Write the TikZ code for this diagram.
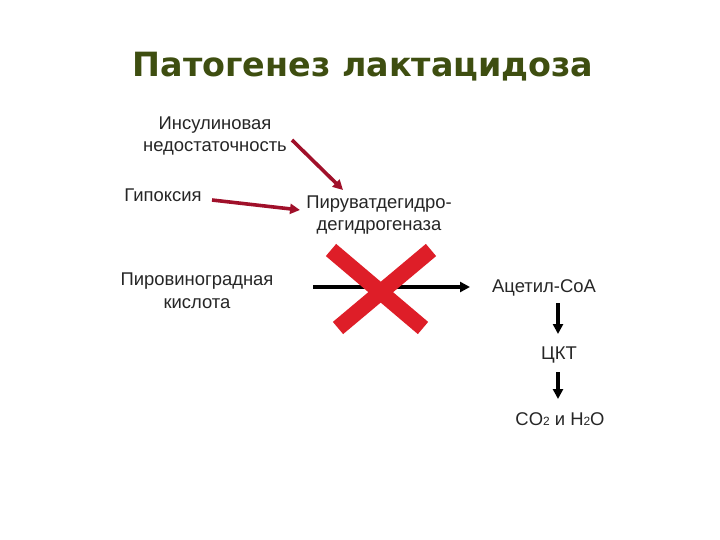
\documentclass[tikz,border=0pt]{standalone}
\usepackage{fontspec}
\setmainfont{Liberation Sans}
\newfontfamily\titlefont{DejaVu Sans}
\usetikzlibrary{arrows.meta}
\definecolor{titlegreen}{RGB}{62,78,16}
\definecolor{darkred}{RGB}{160,16,42}
\definecolor{xred}{RGB}{222,30,40}
\tikzset{
  lbl/.style={inner sep=0pt, font=\fontsize{18.5}{23}\selectfont, align=center, text=black!85},
  redarrow/.style={draw=darkred, line width=3.6pt, -{Triangle[length=10pt,width=10pt]}},
  blackarrow/.style={draw=black, line width=3.4pt, -{Triangle[length=10pt,width=10pt]}},
  crossbar/.style={draw=xred, line width=16pt},
}
\begin{document}
\begin{tikzpicture}[x=1bp,y=-1bp]
\useasboundingbox[fill=white] (0,0) rectangle (720,540);
\node[anchor=base, inner sep=0pt, text=titlegreen, font=\titlefont\bfseries\fontsize{33.5}{36}\selectfont] (title) at (363,77) {Патогенез лактацидоза};
\node[lbl, anchor=base] (ins) at (215,152) {Инсулиновая\\недостаточность};
\node[lbl, anchor=base] (hyp) at (163,202) {Гипоксия};
\node[lbl, anchor=base] (pdh) at (379,231) {Пируватдегидро-\\дегидрогеназа};
\node[lbl, anchor=base] (pvk) at (197,308) {Пировиноградная\\кислота};
\node[lbl, anchor=base] (acoa) at (544,292) {Ацетил-СоА};
\node[lbl, anchor=base] (tca) at (559,359) {ЦКТ};
\node[lbl, anchor=base] (co2) at (560,425) {CO{\fontsize{12}{12}\selectfont 2} и H{\fontsize{12}{12}\selectfont 2}O};
\coordinate (insout) at (292,140);
\coordinate (pdhin1) at (343,190);
\coordinate (hypout) at (212,200);
\coordinate (pdhin2) at (300,210);
\coordinate (pvkout) at (313,287);
\coordinate (acoain) at (470,287);
\coordinate (a1s) at (558,303);
\coordinate (a1e) at (558,334);
\coordinate (a2s) at (558,372);
\coordinate (a2e) at (558,399);
\draw[redarrow] (insout) -- (pdhin1);
\draw[redarrow] (hypout) -- (pdhin2);
\draw[blackarrow] (pvkout) -- (acoain);
\draw[blackarrow] (a1s) -- (a1e);
\draw[blackarrow] (a2s) -- (a2e);
\draw[crossbar] (331,250) -- (423,328);
\draw[crossbar] (431,250) -- (338,328);
\end{tikzpicture}
\end{document}
